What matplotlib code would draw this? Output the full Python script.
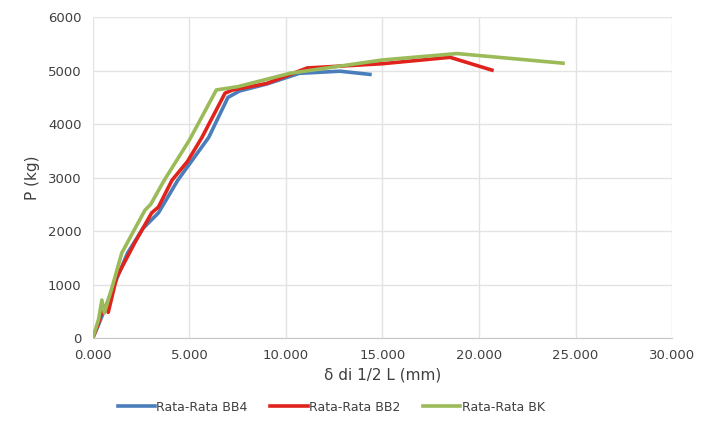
import numpy as np
import matplotlib.pyplot as plt
from matplotlib.ticker import FuncFormatter

# deflection at mid-span (mm) vs load (kg)
bb4_x = [0.0, 0.3, 0.6, 1.0, 1.8, 2.6, 3.4, 4.4, 5.2, 6.0, 7.0, 7.6, 9.0, 10.7, 12.8, 14.35]
bb4_y = [0, 250, 520, 900, 1590, 2050, 2340, 2950, 3350, 3750, 4500, 4620, 4750, 4950, 4990, 4930]

bb2_x = [0.0, 0.3, 0.55, 0.8, 1.24, 2.2, 3.05, 3.4, 4.1, 4.9, 5.65, 6.85, 7.25, 9.0, 11.1, 15.0, 18.5, 20.67]
bb2_y = [0, 280, 600, 480, 1140, 1800, 2340, 2450, 2950, 3300, 3750, 4580, 4640, 4760, 5050, 5130, 5250, 5010]

bk_x = [0.0, 0.3, 0.47, 0.6, 1.0, 1.5, 2.7, 3.0, 3.7, 5.0, 6.4, 7.5, 10.2, 15.0, 18.86, 24.35]
bk_y = [0, 350, 710, 470, 950, 1590, 2390, 2500, 2950, 3700, 4640, 4700, 4950, 5200, 5320, 5140]

series = [
    ("Rata-Rata BB4", bb4_x, bb4_y, "#4a7ebb"),
    ("Rata-Rata BB2", bb2_x, bb2_y, "#e0231c"),
    ("Rata-Rata BK", bk_x, bk_y, "#9bbb59"),
]

fig = plt.figure(figsize=(7.03, 4.30), dpi=100)
ax = fig.add_axes([0.132, 0.214, 0.824, 0.746])

for name, xs, ys, c in series:
    ax.plot(xs, ys, color=c, lw=2.6, label=name, solid_joinstyle="round")

ax.set_xlim(0, 30)
ax.set_ylim(0, 6000)
ax.set_xticks(np.arange(0, 31, 5))
ax.set_yticks(np.arange(0, 6001, 1000))
ax.xaxis.set_major_formatter(FuncFormatter(lambda v, p: f"{v:.3f}"))
ax.grid(True, color="#e3e3e3", lw=1)
ax.set_axisbelow(True)
for s in ["top", "right", "left"]:
    ax.spines[s].set_visible(False)
ax.spines["bottom"].set_color("#c8c8c8")
ax.tick_params(length=0, labelsize=9.5, colors="#404040", pad=8)

ax.set_xlabel("δ di 1/2 L (mm)", fontsize=11, color="#404040", labelpad=4)
ax.set_ylabel("P (kg)", fontsize=11, color="#404040", labelpad=6)

fig.legend(*ax.get_legend_handles_labels(), loc="center", bbox_to_anchor=(331 / 703, 0.053),
           ncol=3, frameon=False, fontsize=9, handlelength=3.0, columnspacing=1.8,
           handletextpad=0.1, labelcolor="#404040")

fig.savefig("out.png", dpi=100)
